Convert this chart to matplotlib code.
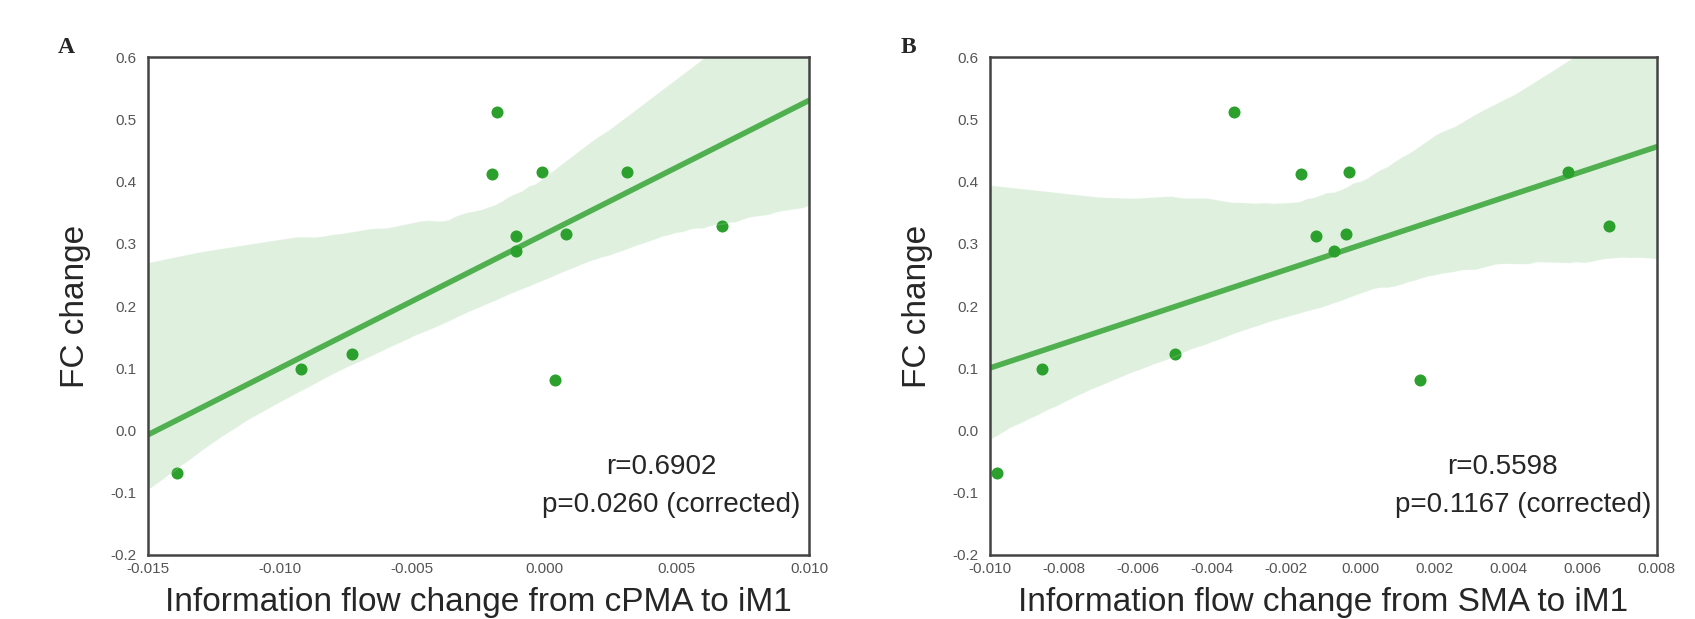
import numpy as np
import matplotlib
matplotlib.use('Agg')
import matplotlib.pyplot as plt
import seaborn as sns

# FC change per subject (same for both panels)
fc_change = [-0.068, 0.099, 0.123, 0.512, 0.412, 0.416, 0.312, 0.289,
             0.316, 0.081, 0.416, 0.329]

# Information flow change, cPMA -> iM1 (panel A)
flow_cpma = [-0.0139, -0.0092, -0.0073, -0.0018, -0.0020, -0.0001, -0.0011,
             -0.0011, 0.0008, 0.0004, 0.0031, 0.0067]

# Information flow change, SMA -> iM1 (panel B)
flow_sma = [-0.0098, -0.0086, -0.0050, -0.0034, -0.0016, -0.0003, -0.0012,
            -0.0007, -0.0004, 0.0016, 0.0056, 0.0067]

panels = [
    dict(letter='A', x=flow_cpma, xlim=(-0.015, 0.010),
         xticks=[-0.015, -0.010, -0.005, 0.000, 0.005, 0.010],
         xlabel='Information flow change from cPMA to iM1',
         r='r=0.6902', p='p=0.0260 (corrected)', rx=0.777, px=0.792,
         seed=3),
    dict(letter='B', x=flow_sma, xlim=(-0.010, 0.008),
         xticks=[-0.010, -0.008, -0.006, -0.004, -0.002, 0.000, 0.002,
                 0.004, 0.006, 0.008],
         xlabel='Information flow change from SMA to iM1',
         r='r=0.5598', p='p=0.1167 (corrected)', rx=0.768, px=0.800,
         seed=7),
]
yticks = [-0.2, -0.1, 0.0, 0.1, 0.2, 0.3, 0.4, 0.5, 0.6]

sns.set_style('white')
plt.rcParams['font.family'] = ['Liberation Sans', 'DejaVu Sans']

fig = plt.figure(figsize=(16.95, 6.19), dpi=100)
positions = [[0.0873, 0.1034, 0.390, 0.8045],
             [0.5840, 0.1034, 0.3935, 0.8045]]
green = '#2ca02c'


def fmt(t, nd):
    return ('{:.%df}' % nd).format(0.0 if abs(t) < 1e-12 else t)


for pos, p in zip(positions, panels):
    ax = fig.add_axes(pos)
    ax.set_xlim(*p['xlim'])
    ax.set_ylim(-0.2, 0.6)
    sns.regplot(x=np.array(p['x']), y=np.array(fc_change), ax=ax,
                color=green, truncate=False, seed=p['seed'],
                scatter_kws=dict(s=75, alpha=1.0, linewidths=0),
                line_kws=dict(lw=4, alpha=0.8))
    ax.set_xlim(*p['xlim'])
    ax.set_ylim(-0.2, 0.6)
    ax.set_xticks(p['xticks'])
    ax.set_xticklabels([fmt(t, 3) for t in p['xticks']])
    ax.set_yticks(yticks)
    ax.set_yticklabels([fmt(t, 1) for t in yticks])
    ax.tick_params(labelsize=11, labelcolor='#555555', length=0)
    ax.tick_params(axis='x', pad=5)
    ax.tick_params(axis='y', pad=8)
    for s in ax.spines.values():
        s.set_color('#444444')
        s.set_linewidth(1.8)
    ax.set_xlabel(p['xlabel'], fontsize=24, labelpad=8)
    ax.set_ylabel('FC change', fontsize=24, labelpad=14)
    ax.text(p['rx'], 0.176, p['r'], transform=ax.transAxes, fontsize=20,
            ha='center', va='center')
    ax.text(p['px'], 0.100, p['p'], transform=ax.transAxes, fontsize=20,
            ha='center', va='center')
    fig.text(pos[0] - 0.048, 0.915, p['letter'], fontsize=17,
             fontweight='bold', family='Liberation Serif', ha='center')

fig.savefig('out.png', dpi=100)
